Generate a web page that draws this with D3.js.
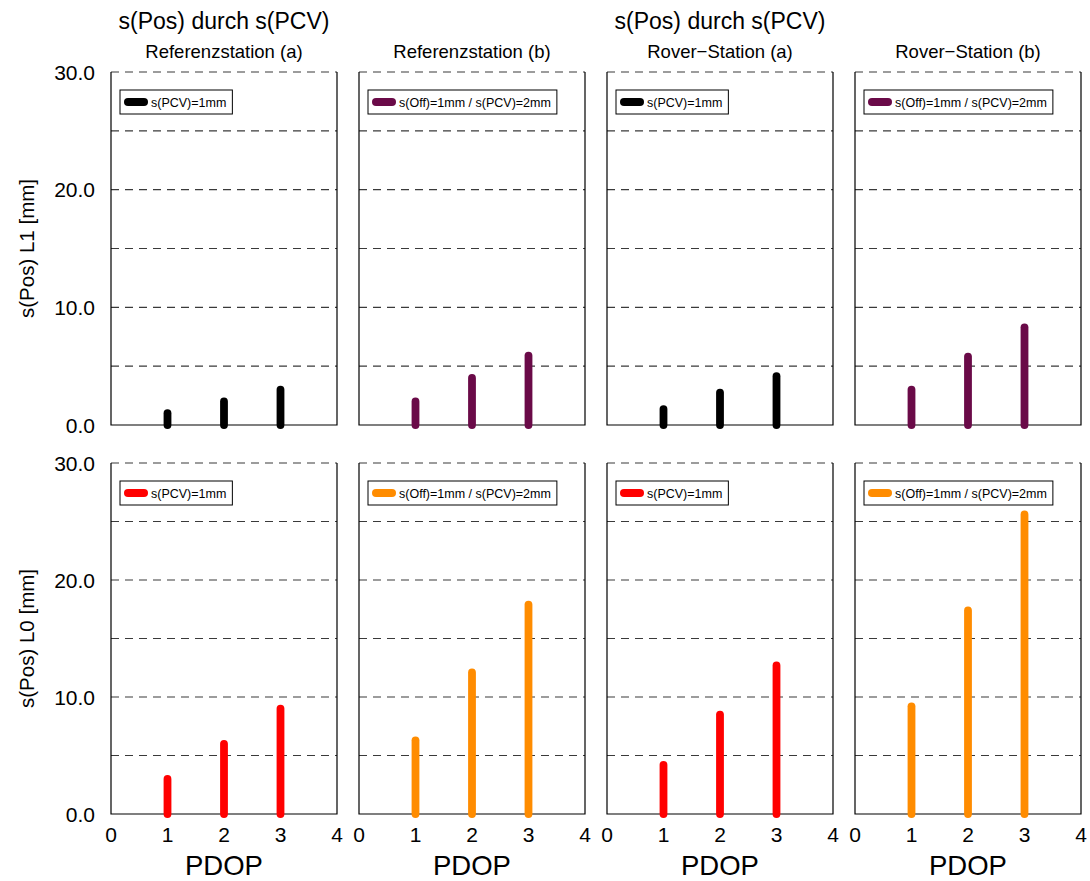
<!DOCTYPE html>
<html><head><meta charset="utf-8">
<script src="https://cdn.jsdelivr.net/npm/d3@7/dist/d3.min.js"></script>
<style>body{margin:0;background:#fff}svg{display:block;font-family:"Liberation Sans",Arial,sans-serif}</style>
</head><body><svg id="c" width="1090" height="881"></svg>
<script>
const pdop = [1, 2, 3];
const xTicks = [0, 1, 2, 3, 4];
const yTicksMajor = [0, 10, 20, 30];
const yGrid = [5, 10, 15, 20, 25, 30];
const columnTitles = ["Referenzstation (a)", "Referenzstation (b)", "Rover\u2212Station (a)", "Rover\u2212Station (b)"];
const mainTitle = "s(Pos) durch s(PCV)";
const rowLabels = ["s(Pos) L1 [mm]", "s(Pos) L0 [mm]"];
const legendLabels = ["s(PCV)=1mm", "s(Off)=1mm / s(PCV)=2mm", "s(PCV)=1mm", "s(Off)=1mm / s(PCV)=2mm"];
const refA_L1 = [1.0, 2.0, 3.0];
const refB_L1 = [2.0, 4.0, 5.9];
const rovA_L1 = [1.35, 2.75, 4.15];
const rovB_L1 = [3.0, 5.8, 8.3];
const refA_L0 = [3.0, 6.0, 9.0];
const refB_L0 = [6.3, 12.1, 17.9];
const rovA_L0 = [4.2, 8.5, 12.7];
const rovB_L0 = [9.2, 17.4, 25.6];
const rowsData = [[refA_L1, refB_L1, rovA_L1, rovB_L1], [refA_L0, refB_L0, rovA_L0, rovB_L0]];
const rowColors = [["#000000", "#6a0a48", "#000000", "#6a0a48"], ["#ff0000", "#ff8c00", "#ff0000", "#ff8c00"]];

const svg = d3.select("#c");
const colX = [111, 359, 607, 855];
const pw = 226;
const rowY = [[72, 425], [463, 814]];

colX.forEach((cx, ci) => {
  rowY.forEach((ry, ri) => {
    const x = d3.scaleLinear().domain([0, 4]).range([cx, cx + pw]);
    const y = d3.scaleLinear().domain([0, 30]).range([ry[1], ry[0]]);
    const g = svg.append("g");
    g.selectAll("line.grid").data(yGrid).join("line")
      .attr("x1", cx).attr("x2", cx + pw)
      .attr("y1", d => y(d)).attr("y2", d => y(d))
      .attr("stroke", "#3a3a3a").attr("stroke-width", 1.1)
      .attr("stroke-dasharray", "8,6");
    g.append("path")
      .attr("d", `M${cx},${y(30)}V${y(0)}H${cx + pw}V${y(30)}`)
      .attr("fill", "none").attr("stroke", "#000").attr("stroke-width", 1.2);
    const vals = rowsData[ri][ci];
    g.selectAll("line.bar").data(pdop).join("line")
      .attr("x1", d => x(d)).attr("x2", d => x(d))
      .attr("y1", y(0)).attr("y2", (d, i) => y(vals[i]))
      .attr("stroke", rowColors[ri][ci]).attr("stroke-width", 7.8)
      .attr("stroke-linecap", "round");
    const lbl = legendLabels[ci];
    const lg = g.append("g");
    const tx = cx + 40;
    const t = lg.append("text").attr("x", tx).attr("y", y(30) + 34.5)
      .attr("font-size", 12.5).attr("fill", "#000").text(lbl);
    const tw = t.node().getComputedTextLength();
    lg.insert("rect", "text").attr("x", cx + 9).attr("y", y(30) + 18)
      .attr("width", tw + 37).attr("height", 24)
      .attr("fill", "#fff").attr("stroke", "#000").attr("stroke-width", 1);
    lg.append("line").attr("x1", cx + 17).attr("x2", cx + 33)
      .attr("y1", y(30) + 30).attr("y2", y(30) + 30)
      .attr("stroke", rowColors[ri][ci]).attr("stroke-width", 8).attr("stroke-linecap", "round");
    if (ci === 0) {
      g.selectAll("text.yt").data(yTicksMajor).join("text")
        .attr("x", 95).attr("y", d => y(d) + 7.5)
        .attr("text-anchor", "end").attr("font-size", 21).text(d => d.toFixed(1));
      g.append("text")
        .attr("transform", `translate(34,${(ry[0] + ry[1]) / 2}) rotate(-90)`)
        .attr("text-anchor", "middle").attr("font-size", 20.5).text(rowLabels[ri]);
    }
    if (ri === 1) {
      g.selectAll("text.xt").data(xTicks).join("text")
        .attr("x", d => x(d)).attr("y", 842)
        .attr("text-anchor", "middle").attr("font-size", 21).text(d => d);
      g.append("text").attr("x", cx + pw / 2).attr("y", 875)
        .attr("text-anchor", "middle").attr("font-size", 27.5).text("PDOP");
    }
  });
  svg.append("text").attr("x", cx + pw / 2).attr("y", 58)
    .attr("text-anchor", "middle").attr("font-size", 18.5).text(columnTitles[ci]);
  if (ci === 0 || ci === 2) {
    svg.append("text").attr("x", cx + pw / 2).attr("y", 29)
      .attr("text-anchor", "middle").attr("font-size", 23).text(mainTitle);
  }
});
</script></body></html>
